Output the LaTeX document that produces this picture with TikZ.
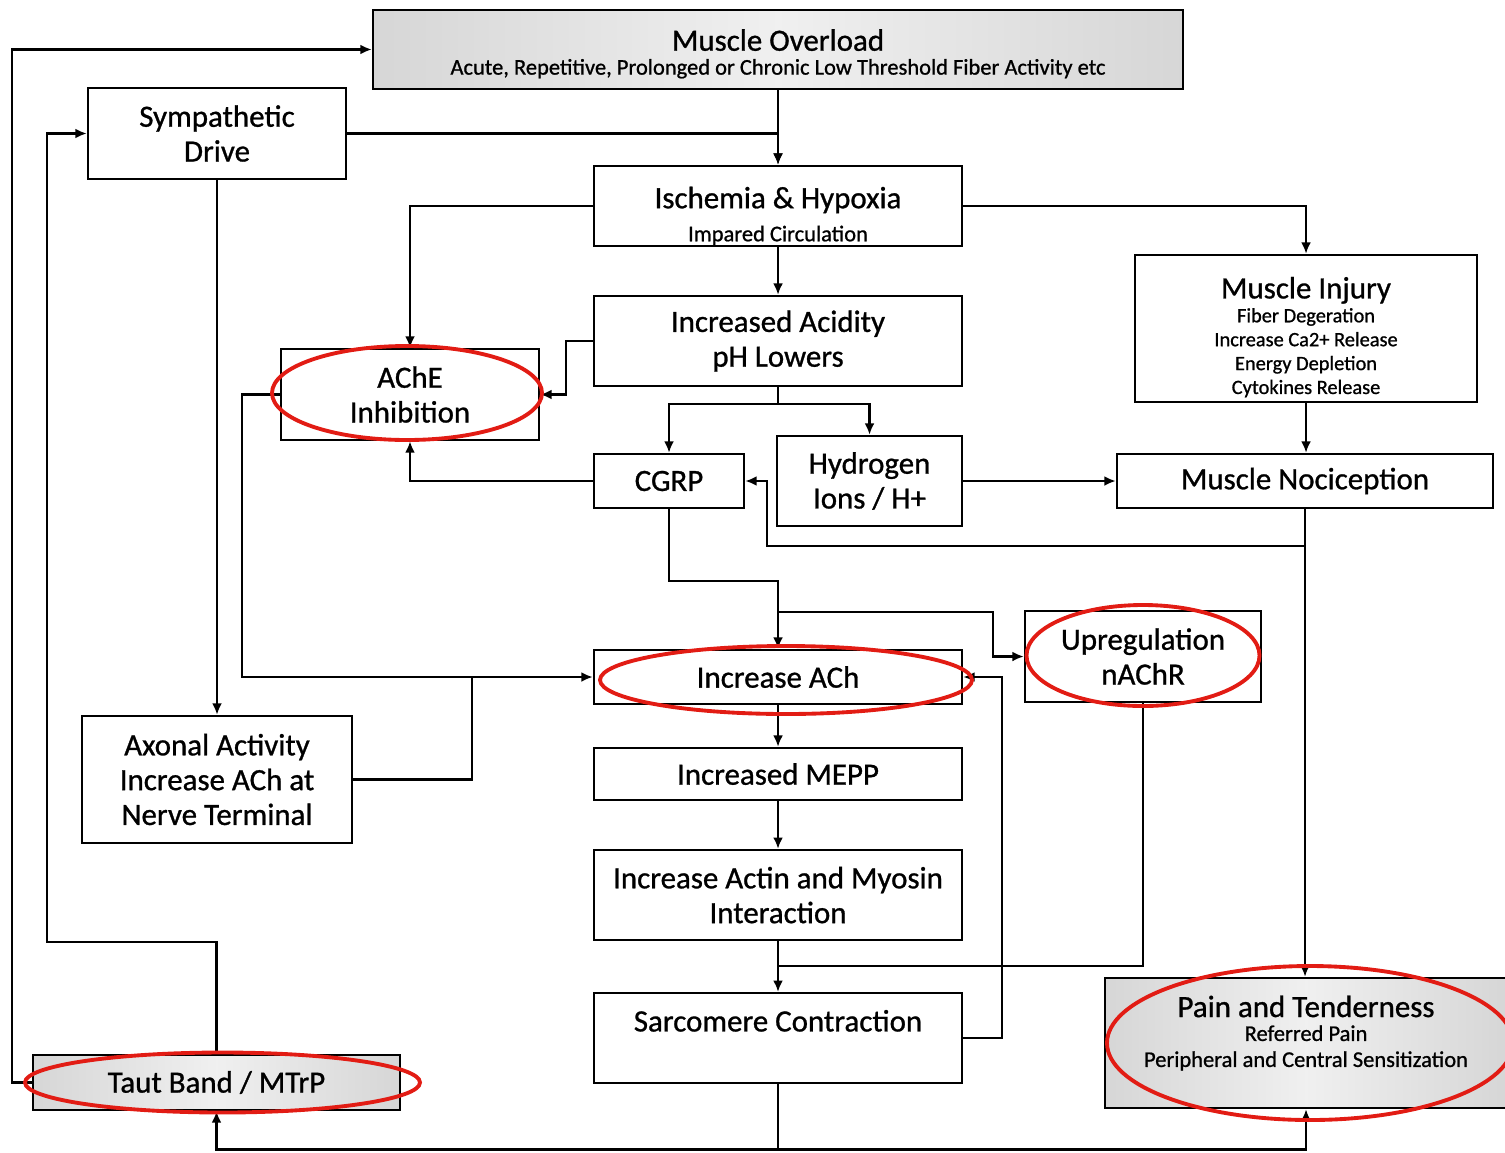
\documentclass[tikz,border=0pt]{standalone}
\usepackage{fontspec}
\setmainfont{Carlito}[FakeBold=0.9]
\usepackage{tikz}
\usetikzlibrary{arrows.meta}
\usetikzlibrary{positioning}
\usetikzlibrary{calc}
\definecolor{ringred}{RGB}{226,28,20}
\newcommand{\boxtitle}{\fontsize{8.8}{9.9}\selectfont}
\newcommand{\boxnote}{\fontsize{5.8}{6.8}\selectfont}
\newcommand{\boxnotewide}{\fontsize{6.4}{7.2}\selectfont}

\begin{document}
\begin{tikzpicture}[>={Latex[length=3.2pt,width=2.8pt]}, line width=0.6pt]
\tikzstyle{every node}=[font=\boxtitle]
\tikzstyle{blk}=[draw, line width=0.75pt, inner sep=0pt, align=center]
\tikzstyle{gry}=[blk, left color=black!16, right color=black!16, middle color=black!6]
\tikzstyle{ring}=[draw=ringred, line width=1.1pt]
\path[use as bounding box] (0,0) rectangle (15.05,-11.52);
% top row
\path node[gry, minimum width=8.10cm, minimum height=0.79cm] (ov) at (7.78,-0.495) {\rule{0pt}{8.6pt}Muscle Overload\\[-3.1pt]{\boxnotewide Acute, Repetitive, Prolonged or Chronic Low Threshold Fiber Activity etc}};
\path node[blk, minimum width=2.58cm, minimum height=0.91cm] (sd) at (2.17,-1.335) {Sympathetic\\Drive};
\path node[blk, minimum width=3.68cm, minimum height=0.80cm] (ih) at (7.78,-2.06) {\rule{0pt}{11.7pt}Ischemia \& Hypoxia\\[-0.5pt]{\boxnotewide Impared Circulation}};
\path node[blk, minimum width=3.68cm, minimum height=0.90cm, below=0.474cm of ih] (ia) {Increased Acidity\\pH Lowers};
\path node[blk, minimum width=2.58cm, minimum height=0.91cm] (ache) at (4.10,-3.945) {AChE\\Inhibition};
\path node[blk, minimum width=1.50cm, minimum height=0.54cm] (cgrp) at (6.69,-4.81) {CGRP};
\path node[blk, minimum width=1.85cm, minimum height=0.90cm] (hy) at (8.695,-4.81) {Hydrogen\\Ions / H+};
\path node[blk, minimum width=3.42cm, minimum height=1.47cm] (mi) at (13.06,-3.285) {\rule{0pt}{11pt}Muscle Injury\\[-3.1pt]{\boxnote Fiber Degeration}\\[-3.1pt]{\boxnote Increase Ca2+ Release}\\[-3.1pt]{\boxnote Energy Depletion}\\[-3.1pt]{\boxnote Cytokines Release}};
\path node[blk, minimum width=3.76cm, minimum height=0.54cm] (mn) at (13.05,-4.81) {Muscle Nociception};
% middle column
\path node[blk, minimum width=2.36cm, minimum height=0.91cm] (up) at (11.43,-6.565) {Upregulation\\nAChR};
\path node[blk, minimum width=3.68cm, minimum height=0.54cm] (ach) at (7.78,-6.77) {Increase ACh};
\path node[blk, minimum width=2.70cm, minimum height=1.27cm] (ax) at (2.17,-7.795) {Axonal Activity\\Increase ACh at\\Nerve Terminal};
\path node[blk, minimum width=3.68cm, minimum height=0.52cm, below=0.414cm of ach] (mepp) {Increased MEPP};
\path node[blk, minimum width=3.68cm, minimum height=0.90cm, below=0.474cm of mepp] (act) {Increase Actin and Myosin\\Interaction};
\path node[blk, minimum width=3.68cm, minimum height=0.90cm, below=0.504cm of act] (sc) {Sarcomere Contraction\\\mbox{}};
% bottom row
\path node[gry, minimum width=3.67cm, minimum height=0.55cm] (tb) at (2.165,-10.825) {Taut Band / MTrP};
\path node[gry, minimum width=4.02cm, minimum height=1.30cm] (pt) at (13.06,-10.43) {Pain and Tenderness\\[-3.1pt]{\boxnotewide Referred Pain}\\[-2.5pt]{\boxnotewide Peripheral and Central Sensitization\rule[-6.7pt]{0pt}{0pt}}};

% connectors
\path[->,draw] (ov) -- (ih);
\path[->,draw] (sd.east) -| (ih.north);
\path[->,draw] (sd) -- (ax);
\path[->,draw] (ih.west) -| (ache.north);
\path[->,draw] (ih.east) -| (mi.north);
\path[->,draw] (ih) -- (ia);
\path[->,draw] (ia.west) -- ++(-0.27,0) |- (ache.east);
\draw (ia.south) -- ++(0,-0.17) coordinate (isplit);
\path[->,draw] (isplit) -| (cgrp.north);
\path[->,draw] (isplit) -| (hy.north);
\path[->,draw] (hy) -- (mn);
\path[->,draw] (mi.south) -- (mi.south |- mn.north);
\coordinate (nbend) at (7.67,-5.46);
\path[->,draw] (mn.south) |- (nbend) |- (cgrp.east);
\path[->,draw] (mn.south) -- (mn.south |- pt.north);
\path[->,draw] (cgrp.west) -| (ache.south);
\path[->,draw] (cgrp.south) -- ++(0,-0.72) -| (ach.north);
\coordinate (ubend) at (9.93,-6.12);
\path[->,draw] (ubend -| ach.north) -- (ubend) |- (up.west);
\path[->,draw] (ache.west) -- ++(-0.38,0) |- (ach.west);
\path[draw] (ax.east) -| ($(ach.west)+(-1.21,0)$);
\path[->,draw] (ach) -- (mepp);
\path[->,draw] (mepp) -- (act);
\path[->,draw] (act) -- (sc);
\coordinate (ujoin) at (7.78,-9.66);
\path[draw] (up.south) |- (ujoin);
\path[->,draw] (sc.east) -- ++(0.39,0) |- (ach.east);
\draw (sc.south) -- ++(0,-0.65) coordinate (bot);
\path[->,draw] (bot) -| (tb.south);
\path[->,draw] (bot) -| (pt.south);
\path[->,draw] (tb.west) -- ++(-0.20,0) |- (ov.west);
\path[->,draw] (tb.north) -- ++(0,1.12) -| ($(sd.west)+(-0.40,0)$) -- (sd.west);

% red rings
\draw[ring] ($(ache)+(-0.03,0.015)$) ellipse [x radius=1.35cm, y radius=0.47cm];
\draw[ring] ($(ach)+(0.08,-0.03)$) ellipse [x radius=1.86cm, y radius=0.34cm];
\draw[ring] ($(up)+(0,0.01)$) ellipse [x radius=1.165cm, y radius=0.505cm];
\draw[ring] ($(tb)+(0.06,0)$) ellipse [x radius=1.975cm, y radius=0.30cm];
\draw[ring] ($(pt)+(0.04,0)$) ellipse [x radius=2.03cm, y radius=0.77cm];
\end{tikzpicture}
\end{document}
